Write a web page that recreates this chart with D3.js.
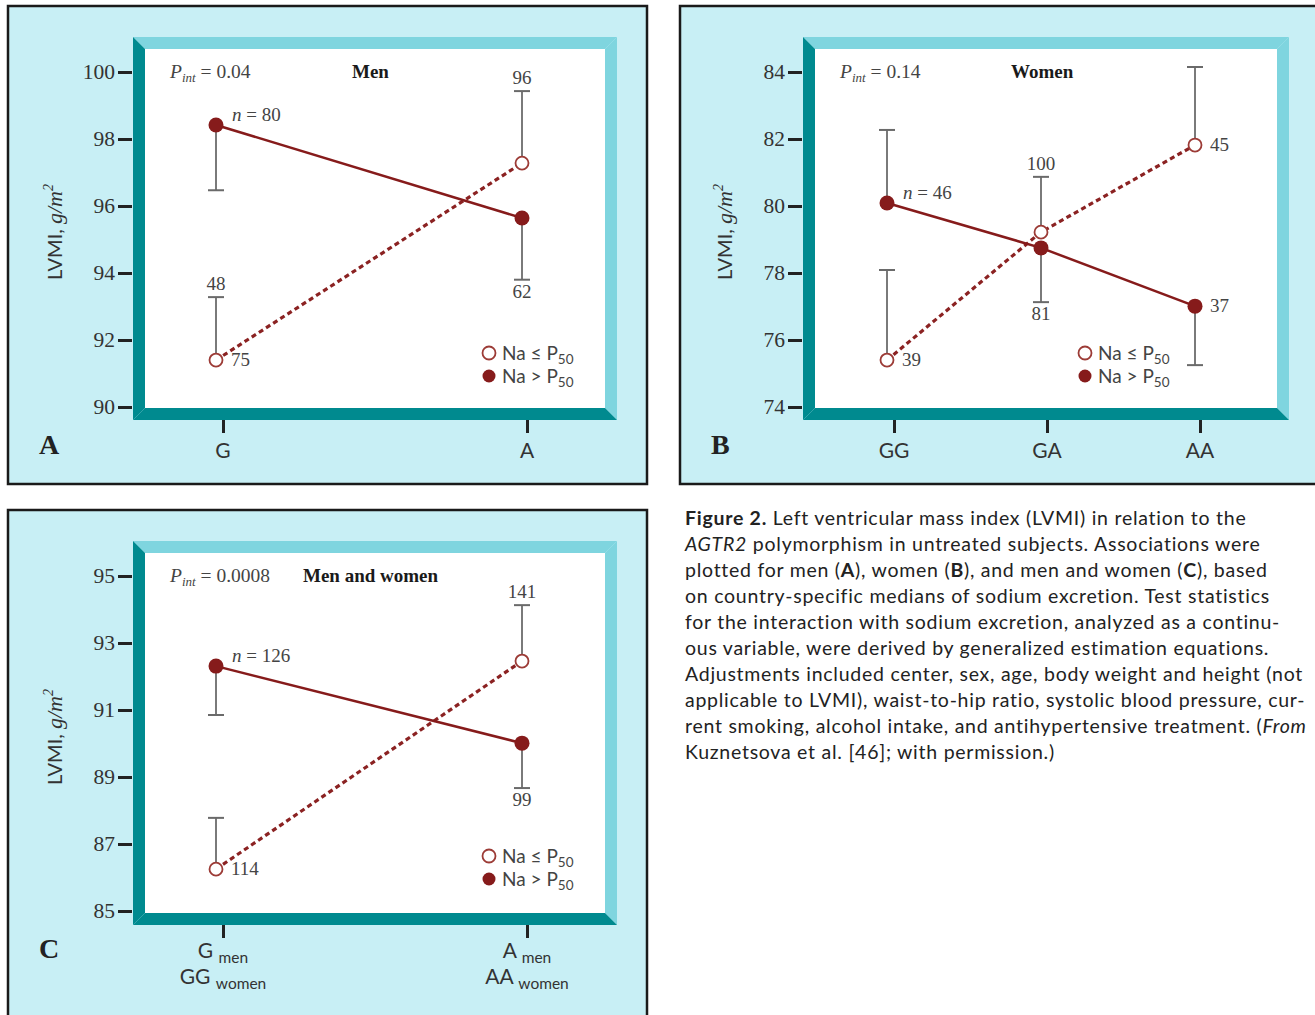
<!DOCTYPE html>
<html>
<head>
<meta charset="utf-8">
<script src="https://cdn.jsdelivr.net/npm/d3@7"></script>
<style>
  body { margin: 0; background: #fff; }
  svg { display: block; }
</style>
</head>
<body>
<div id="fig"></div>
<script>
// values
var catsA = ["G", "A"];
var highMeanA = [98.42, 95.64];
var highErrA = [96.47, 93.8];
var lowMeanA = [91.4, 97.28];
var lowErrA = [93.28, 99.43];
var pintA = "0.04";
// [text, category index, series, placement]
var notesA = [["n = 80", 0, "high", "n"], ["62", 1, "high", "below"], ["48", 0, "low", "above"],
    ["75", 0, "low", "right"], ["96", 1, "low", "above"]];

var catsB = ["GG", "GA", "AA"];
var highMeanB = [80.09, 78.75, 77.01];
var highErrB = [82.27, 77.13, 75.25];
var lowMeanB = [75.4, 79.22, 81.82];
var lowErrB = [78.09, 80.87, 84.15];
var pintB = "0.14";
var notesB = [["n = 46", 0, "high", "n"], ["81", 1, "high", "below"], ["37", 2, "high", "right"],
    ["39", 0, "low", "right"], ["100", 1, "low", "above"], ["45", 2, "low", "right"]];

var catsC = [["G", "men", "GG", "women"], ["A", "men", "AA", "women"]];
var highMeanC = [92.31, 90.01];
var highErrC = [90.85, 88.67];
var lowMeanC = [86.25, 92.46];
var lowErrC = [87.78, 94.13];
var pintC = "0.0008";
var notesC = [["n = 126", 0, "high", "n"], ["99", 1, "high", "below"], ["114", 0, "low", "right"],
    ["141", 1, "low", "above"]];

var ticksA = [90, 92, 94, 96, 98, 100];
var ticksB = [74, 76, 78, 80, 82, 84];
var ticksC = [85, 87, 89, 91, 93, 95];

var W = 1315, H = 1015;
var serif = "'Liberation Serif', serif";
var sans = "Lato, 'Open Sans', sans-serif";
var darkRed = "#861b1b";

var svg = d3.select("#fig").append("svg")
    .attr("width", W).attr("height", H);

function drawPanel(p) {
    var g = svg.append("g");

    // outer box
    g.append("rect")
        .attr("x", p.box[0]).attr("y", p.box[1])
        .attr("width", p.box[2]).attr("height", p.box[3])
        .attr("fill", "#c8eff5").attr("stroke", "#1a1a1a").attr("stroke-width", 2.5);

    // beveled frame
    var l = p.frame[0], t = p.frame[1], r = p.frame[2], b = p.frame[3], bw = 12;
    var polys = [
        [[[l, t], [r, t], [r - bw, t + bw], [l + bw, t + bw]], "#7fd5df"],
        [[[r, t], [r, b], [r - bw, b - bw], [r - bw, t + bw]], "#7fd5df"],
        [[[l, b], [r, b], [r - bw, b - bw], [l + bw, b - bw]], "#008a8f"],
        [[[l, t], [l + bw, t + bw], [l + bw, b - bw], [l, b]], "#008a8f"]
    ];
    polys.forEach(function(d) {
        g.append("polygon").attr("points", d[0].join(" ")).attr("fill", d[1]);
    });
    g.append("rect").attr("x", l + bw).attr("y", t + bw)
        .attr("width", r - l - 2 * bw).attr("height", b - t - 2 * bw).attr("fill", "#fff");

    var y = d3.scaleLinear().domain(d3.extent(p.ticks)).range(p.yRange);
    var keys = p.cats.map(function(c, i) { return i; });
    var x = d3.scalePoint().domain(keys).range(p.xRange);
    var xt = d3.scalePoint().domain(keys).range([p.xRange[0] + 7, p.xRange[1] + 5]);

    // y axis
    var ya = g.append("g").attr("transform", "translate(" + (l - 1) + ",0)")
        .call(d3.axisLeft(y).tickValues(p.ticks).tickSize(14).tickPadding(3).tickFormat(d3.format("d")));
    ya.select(".domain").remove();
    ya.selectAll(".tick line").attr("stroke", "#222").attr("stroke-width", 3);
    ya.selectAll(".tick text").attr("font-family", serif).attr("font-size", 21.5).attr("fill", "#333");

    // x axis ticks
    var xa = g.append("g").attr("transform", "translate(0," + b + ")")
        .call(d3.axisBottom(xt).tickSize(13).tickFormat(""));
    xa.select(".domain").remove();
    xa.selectAll(".tick line").attr("stroke", "#222").attr("stroke-width", 3);

    keys.forEach(function(k) {
        var c = p.cats[k];
        if (typeof c === "string") {
            g.append("text").attr("x", xt(k)).attr("y", b + 38)
                .attr("text-anchor", "middle").attr("font-family", sans)
                .attr("font-size", 21).attr("fill", "#333").text(c);
        } else {
            [[c[0], c[1], 0], [c[2], c[3], 26]].forEach(function(row) {
                var tx = g.append("text").attr("x", xt(k)).attr("y", b + 33 + row[2])
                    .attr("text-anchor", "middle").attr("font-family", sans)
                    .attr("font-size", 21).attr("fill", "#333");
                tx.append("tspan").text(row[0] + " ");
                tx.append("tspan").attr("font-size", 15.5).attr("dy", 5).text(row[1]);
            });
        }
    });

    // panel letter
    g.append("text").attr("x", p.letterPos[0]).attr("y", p.letterPos[1])
        .attr("font-family", serif).attr("font-weight", "bold").attr("font-size", 28)
        .attr("fill", "#222").text(p.letter);

    // y label
    var yl = g.append("text")
        .attr("transform", "translate(" + p.yLabelPos[0] + "," + p.yLabelPos[1] + ") rotate(-90)")
        .attr("text-anchor", "middle").attr("font-family", sans).attr("font-size", 20).attr("fill", "#333");
    yl.append("tspan").text("LVMI, ");
    yl.append("tspan").attr("font-family", serif).attr("font-style", "italic").attr("font-size", 22).text("g/m");
    yl.append("tspan").attr("font-family", serif).attr("font-style", "italic").attr("font-size", 14).attr("dy", -9).text("2");

    // P_int and title
    var pt = g.append("text").attr("x", l + 37).attr("y", p.headY)
        .attr("font-family", serif).attr("font-size", 19.5).attr("fill", "#444");
    pt.append("tspan").attr("font-style", "italic").text("P");
    pt.append("tspan").attr("font-style", "italic").attr("font-size", 13).attr("dy", 4).text("int");
    pt.append("tspan").attr("dy", -4).text(" = " + p.pint);
    g.append("text").attr("x", p.titleX).attr("y", p.headY)
        .attr("font-family", serif).attr("font-weight", "bold").attr("font-size", 19)
        .attr("fill", "#1a1a1a").text(p.title);

    var series = {
        high: { mean: p.highMean, err: p.highErr },
        low: { mean: p.lowMean, err: p.lowErr }
    };

    // error bars
    ["low", "high"].forEach(function(s) {
        keys.forEach(function(k) {
            var cx = x(k), y0 = y(series[s].mean[k]), y1 = y(series[s].err[k]);
            g.append("line").attr("x1", cx).attr("x2", cx).attr("y1", y0).attr("y2", y1)
                .attr("stroke", "#7a7a7a").attr("stroke-width", 2);
            g.append("line").attr("x1", cx - 8).attr("x2", cx + 8).attr("y1", y1).attr("y2", y1)
                .attr("stroke", "#6a6a6a").attr("stroke-width", 2);
        });
    });

    // lines
    var line = d3.line().x(function(d, i) { return x(i); }).y(function(d) { return y(d); });
    g.append("path").attr("d", line(p.lowMean)).attr("fill", "none")
        .attr("stroke", "#8b2222").attr("stroke-width", 3.2).attr("stroke-dasharray", "5,3.5");
    g.append("path").attr("d", line(p.highMean)).attr("fill", "none")
        .attr("stroke", darkRed).attr("stroke-width", 2.5);

    // points
    g.selectAll(".lowpt").data(p.lowMean).enter().append("circle")
        .attr("cx", function(d, i) { return x(i); }).attr("cy", function(d) { return y(d); })
        .attr("r", 6.5).attr("fill", "#fff").attr("stroke", "#9c3b36").attr("stroke-width", 1.8);
    g.selectAll(".highpt").data(p.highMean).enter().append("circle")
        .attr("cx", function(d, i) { return x(i); }).attr("cy", function(d) { return y(d); })
        .attr("r", 7.5).attr("fill", darkRed);

    // n labels
    p.notes.forEach(function(n) {
        var k = n[1], s = series[n[2]];
        var cx = x(k), cy = y(s.mean[k]), ey = y(s.err[k]);
        var tx = g.append("text").attr("font-family", serif).attr("font-size", 19).attr("fill", "#444");
        if (n[3] === "n") {
            tx.attr("x", cx + 16).attr("y", cy - 4);
            tx.append("tspan").attr("font-style", "italic").text("n");
            tx.append("tspan").text(n[0].slice(1));
        } else if (n[3] === "right") {
            tx.attr("x", cx + 15).attr("y", cy + 6).text(n[0]);
        } else if (n[3] === "above") {
            tx.attr("x", cx).attr("y", ey - 7).attr("text-anchor", "middle").text(n[0]);
        } else {
            tx.attr("x", cx).attr("y", ey + 18).attr("text-anchor", "middle").text(n[0]);
        }
    });

    // legend
    var lg = p.legend;
    [["≤", false], [">", true]].forEach(function(d, i) {
        var ly = lg[1] + i * 23;
        g.append("circle").attr("cx", lg[0]).attr("cy", ly).attr("r", 6.5)
            .attr("fill", d[1] ? darkRed : "#fff")
            .attr("stroke", d[1] ? "none" : "#9c3b36").attr("stroke-width", 1.8);
        var tx = g.append("text").attr("x", lg[0] + 13).attr("y", ly + 7)
            .attr("font-family", sans).attr("font-size", 19).attr("fill", "#444");
        tx.append("tspan").text("Na " + d[0] + " P");
        tx.append("tspan").attr("font-size", 13.5).attr("dy", 4).text("50");
    });
}

drawPanel({
    box: [8, 6, 639, 478], frame: [133, 37, 617, 420],
    ticks: ticksA, yRange: [407, 72], xRange: [216, 522], cats: catsA,
    highMean: highMeanA, highErr: highErrA, lowMean: lowMeanA, lowErr: lowErrA,
    notes: notesA, pint: pintA, title: "Men", titleX: 352, headY: 78,
    legend: [489, 353], letter: "A", letterPos: [39, 454], yLabelPos: [62, 232]
});

drawPanel({
    box: [680, 6, 700, 478], frame: [803, 37, 1289, 420],
    ticks: ticksB, yRange: [407, 72], xRange: [887, 1195], cats: catsB,
    highMean: highMeanB, highErr: highErrB, lowMean: lowMeanB, lowErr: lowErrB,
    notes: notesB, pint: pintB, title: "Women", titleX: 1011, headY: 78,
    legend: [1085, 353], letter: "B", letterPos: [711, 454], yLabelPos: [732, 232]
});

drawPanel({
    box: [8, 510, 639, 530], frame: [133, 541, 617, 925],
    ticks: ticksC, yRange: [911, 576], xRange: [216, 522], cats: catsC,
    highMean: highMeanC, highErr: highErrC, lowMean: lowMeanC, lowErr: lowErrC,
    notes: notesC, pint: pintC, title: "Men and women", titleX: 303, headY: 582,
    legend: [489, 856], letter: "C", letterPos: [39, 958], yLabelPos: [62, 737]
});

// caption
var caption = [
    [["b", "Figure 2."], ["", " Left ventricular mass index (LVMI) in relation to the"]],
    [["i", "AGTR2"], ["", " polymorphism in untreated subjects. Associations were"]],
    [["", "plotted for men ("], ["b", "A"], ["", "), women ("], ["b", "B"], ["", "), and men and women ("], ["b", "C"], ["", "), based"]],
    [["", "on country-specific medians of sodium excretion. Test statistics"]],
    [["", "for the interaction with sodium excretion, analyzed as a continu-"]],
    [["", "ous variable, were derived by generalized estimation equations."]],
    [["", "Adjustments included center, sex, age, body weight and height (not"]],
    [["", "applicable to LVMI), waist-to-hip ratio, systolic blood pressure, cur-"]],
    [["", "rent smoking, alcohol intake, and antihypertensive treatment. ("], ["i", "From"]],
    [["", "Kuznetsova et al. [46]; with permission.)"]]
];
var capLines = caption.map(function(row, i) {
    var tx = svg.append("text").attr("x", 685).attr("y", 525 + i * 26)
        .attr("font-family", sans).attr("font-size", 19.5).attr("fill", "#222");
    row.forEach(function(seg) {
        var ts = tx.append("tspan").text(seg[1]);
        if (seg[0] === "b") ts.attr("font-weight", "bold");
        if (seg[0] === "i") ts.attr("font-style", "italic");
    });
    return tx;
});
// widen to the caption's measured line width (line 7 runs 685 -> 1303)
var w7 = capLines[6].node().getComputedTextLength();
var spacing = (618 - w7) / capLines[6].text().length;
capLines.forEach(function(tx) { tx.attr("letter-spacing", spacing.toFixed(2)); });
</script>
</body>
</html>
